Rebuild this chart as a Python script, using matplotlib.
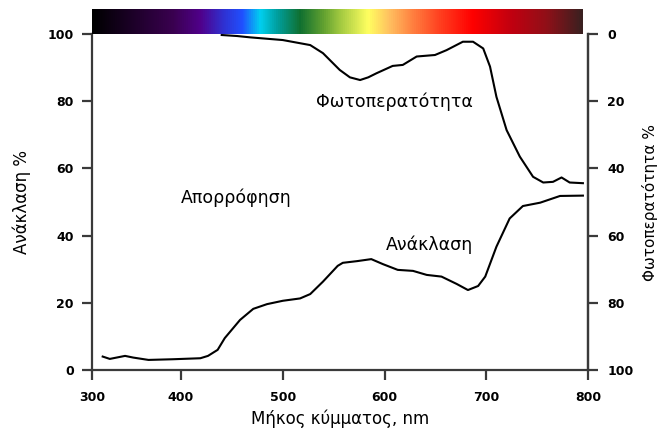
import matplotlib
matplotlib.use("Agg")
import matplotlib.pyplot as plt
import numpy as np
from matplotlib.colors import LinearSegmentedColormap

# ---------------- data ----------------
refl_wl = [323, 330, 345, 353, 368, 392, 419, 426.5, 436, 443, 458, 471, 484.5, 500,
           517, 527, 539.5, 554, 559, 573, 587, 598.5, 613, 628, 641.5, 656, 671,
           682, 692, 699, 710, 723, 736, 753, 772.5, 795]
refl_val = [4.0, 3.3, 4.2, 3.7, 3.0, 3.2, 3.5, 4.2, 6.0, 9.5, 14.9, 18.2, 19.6, 20.6,
            21.3, 22.6, 26.3, 31.0, 31.9, 32.4, 33.0, 31.5, 29.8, 29.5, 28.3, 27.8, 25.6,
            23.8, 25.0, 27.8, 36.7, 45.1, 48.8, 49.8, 51.8, 51.9]

trans_wl = [440, 455, 468, 500, 527, 539.5, 556, 566, 576, 584, 592, 608, 618, 631.6,
            649.6, 661, 677, 687, 697, 703.7, 710, 720, 733, 746, 756, 765.6, 774, 782, 795]
trans_val = [0.3, 0.6, 1.0, 1.8, 3.3, 5.7, 10.7, 12.9, 13.7, 12.9, 11.7, 9.5, 9.2, 6.7,
             6.25, 4.8, 2.3, 2.3, 4.3, 9.7, 18.7, 28.6, 36.5, 42.5, 44.2, 44.0, 42.7, 44.2, 44.4]

x_tick_pos = [312.5, 400, 500, 600, 700, 800]
x_tick_labels = ["300", "400", "500", "600", "700", "800"]
left_ticks = [0, 20, 40, 60, 80, 100]
right_ticks = [0, 20, 40, 60, 80, 100]

spectrum_wl = [312.5, 320, 392, 418.7, 441, 460, 477.6, 494, 517, 539.6, 556, 584,
               605, 628, 654.5, 687, 726, 760, 795]
spectrum_colors = ["#000000", "#050008", "#3a0050", "#50008a", "#3030d0", "#2050ff",
                   "#00d0f0", "#00a0a0", "#107030", "#60a030", "#a0c840", "#ffff60",
                   "#ffc060", "#ff8040", "#ff4020", "#ff0000", "#c00010", "#901018",
                   "#3a2020"]

label_x = "Μήκος κύμματος, nm"
label_left = "Ανάκλαση %"
label_right = "Φωτοπερατότητα %"
ann_trans = "Φωτοπερατότητα"
ann_abs = "Απορρόφηση"
ann_refl = "Ανάκλαση"

# ---------------- figure ----------------
plt.rcParams['font.family'] = ['DejaVu Sans']
W, H = 660, 432
fig = plt.figure(figsize=(W / 100, H / 100), dpi=100)

def px_rect(x0, y0, x1, y1):
    return [x0 / W, (H - y1) / H, (x1 - x0) / W, (y1 - y0) / H]

ax = fig.add_axes(px_rect(92, 34, 588, 370))
spine_col = "#3a3a3a"
ax.plot(refl_wl, refl_val, color="black", lw=1.5)
ax.set_xlim(312.5, 800)
ax.set_ylim(0, 100)
ax.set_xticks(x_tick_pos)
ax.set_xticklabels(x_tick_labels)
ax.set_yticks(left_ticks)
for s in ["left", "bottom", "right"]:
    ax.spines[s].set_color(spine_col)
    ax.spines[s].set_linewidth(1.6)
ax.spines["top"].set_visible(False)
ax.tick_params(axis="both", direction="out", length=7, width=1.6, color=spine_col,
               labelsize=9, pad=6)
ax.tick_params(axis="x", pad=8)
for lab in ax.get_xticklabels() + ax.get_yticklabels():
    lab.set_fontweight("bold")
ax.set_xlabel(label_x, fontsize=12, labelpad=4)
ax.set_ylabel(label_left, fontsize=12, labelpad=12)

ax2 = ax.twinx()
ax2.plot(trans_wl, trans_val, color="black", lw=1.5)
ax2.set_ylim(100, 0)
ax2.set_yticks(right_ticks)
for s in ["left", "bottom", "top"]:
    ax2.spines[s].set_visible(False)
ax2.spines["right"].set_color(spine_col)
ax2.spines["right"].set_linewidth(1.6)
ax2.tick_params(axis="y", direction="out", length=7, width=1.6, color=spine_col,
                labelsize=9, pad=7)
for lab in ax2.get_yticklabels():
    lab.set_fontweight("bold")
ax2.set_ylabel(label_right, fontsize=11, rotation=90)
ax2.yaxis.set_label_coords((650 - 92) / 496, 0.5)
ax2.yaxis.label.set_va("center")
ax2.yaxis.label.set_ha("center")

# annotations
ax.text(610, 79.9, ann_trans, fontsize=12.5, ha="center", va="center")
ax.text(454.5, 51.2, ann_abs, fontsize=12.5, ha="center", va="center")
ax.text(644.4, 37.2, ann_refl, fontsize=12.5, ha="center", va="center")

# spectrum bar
cax = fig.add_axes(px_rect(92, 9, 583, 34))
lo, hi = spectrum_wl[0], spectrum_wl[-1]
stops = [(w - lo) / (hi - lo) for w in spectrum_wl]
cmap = LinearSegmentedColormap.from_list("spec", list(zip(stops, spectrum_colors)))
grad = np.linspace(0, 1, 512)[None, :]
cax.imshow(grad, aspect="auto", cmap=cmap, extent=[lo, hi, 0, 1])
cax.set_axis_off()

fig.savefig("out.png", dpi=100)
